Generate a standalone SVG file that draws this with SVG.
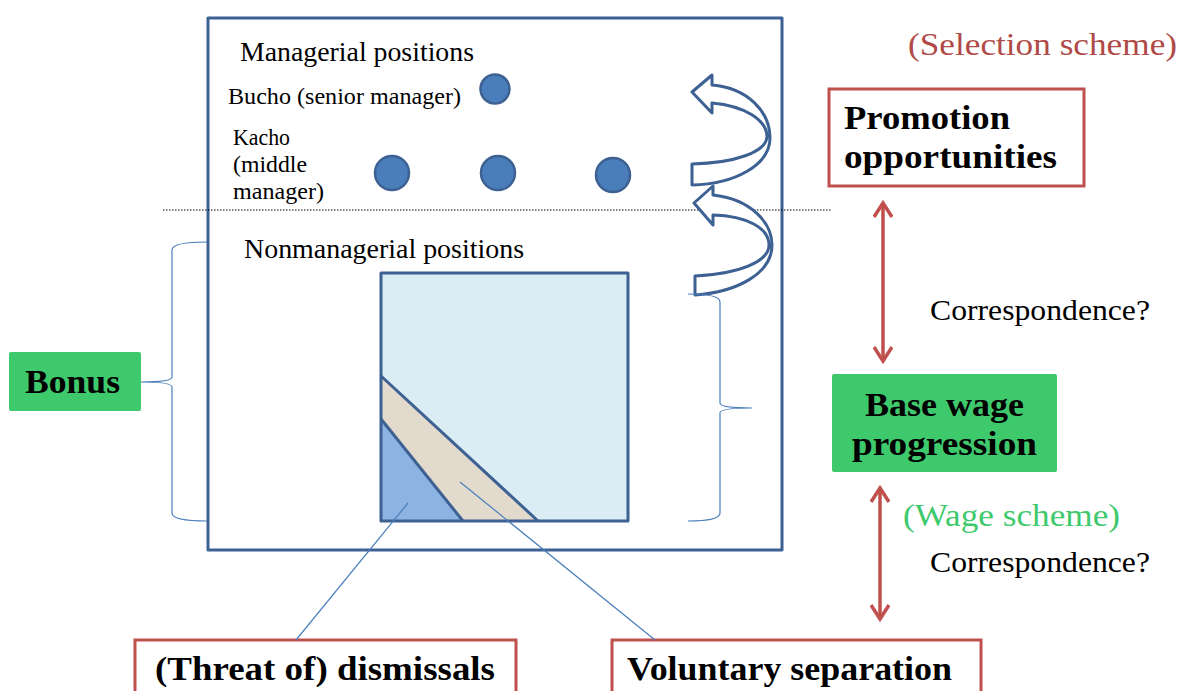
<svg xmlns="http://www.w3.org/2000/svg" width="1180" height="691" viewBox="0 0 1180 691">
<defs>
<style>
text{font-family:"Liberation Serif","DejaVu Serif",serif;fill:#000}
.b{font-weight:bold}
.blue{stroke:#3d6192;stroke-width:3;stroke-linejoin:round}
.dot{fill:#4a7ebb;stroke:#3d6192;stroke-width:2.5}
.thin{fill:none;stroke:#4a7ebb;stroke-width:1.2}
.red{fill:#fff;stroke:#c0504d;stroke-width:3}
.green{fill:#3fc96d}
.arr{fill:none;stroke:#c0504d;stroke-width:3.5}
</style>
<marker id="ah" viewBox="0 0 20 20" refX="16" refY="10" markerWidth="20" markerHeight="20" markerUnits="userSpaceOnUse" orient="auto-start-reverse">
<path d="M2,1 L16,10 L2,19" fill="none" stroke="#c0504d" stroke-width="3.5" stroke-linejoin="miter"/>
</marker>
</defs>
<rect width="1180" height="691" fill="#fff"/>

<g id="frame">
<rect x="208" y="18" width="574" height="532" fill="#fff" class="blue"/>
</g>
<line x1="163" y1="210" x2="832" y2="210" stroke="#000" stroke-width="1" stroke-dasharray="1.5,1.5"/>

<g id="managerial">
<text x="240" y="61" font-size="27" textLength="234" lengthAdjust="spacingAndGlyphs">Managerial positions</text>
<text x="228" y="104" font-size="24" textLength="233" lengthAdjust="spacingAndGlyphs">Bucho (senior manager)</text>
<text x="233" y="145" font-size="23" textLength="57" lengthAdjust="spacingAndGlyphs">Kacho</text>
<text x="233" y="172" font-size="23" textLength="74" lengthAdjust="spacingAndGlyphs">(middle</text>
<text x="233" y="199" font-size="23" textLength="91" lengthAdjust="spacingAndGlyphs">manager)</text>
<circle class="dot" cx="495" cy="89" r="14.5"/>
<circle class="dot" cx="392" cy="173" r="17"/>
<circle class="dot" cx="498" cy="173" r="17"/>
<circle class="dot" cx="613" cy="175" r="17"/>
</g>

<g id="promotion-arrows">
<path class="blue" fill="#fff" d="M692,92 L712,75 L712,85 C748,88 770,112 770,138 C770,165 735,184 692,185 L692,164 C735,163 766,152 767,137 C767,120 745,106 712,103 L712,113 Z"/>
<path class="blue" fill="#fff" d="M694,203 L713,186 L713,195 C750,199 772,222 772,245 C772,273 738,292 695,295 L695,276 C738,274 769,262 769,245 C769,228 747,216 713,215 L713,225 Z"/>
</g>

<g id="nonmanagerial">
<text x="244" y="258" font-size="27" textLength="280" lengthAdjust="spacingAndGlyphs">Nonmanagerial positions</text>
<rect x="381" y="273" width="247" height="248" fill="#dbedf4"/>
<polygon points="381,376 538,521 381,521" fill="#e2dacd"/>
<polygon points="381,419 463,521 381,521" fill="#8db3e2"/>
<line class="blue" x1="381" y1="376" x2="538" y2="521"/>
<line class="blue" x1="381" y1="419" x2="463" y2="521"/>
<rect x="381" y="273" width="247" height="248" fill="none" class="blue"/>
</g>

<g id="braces">
<path class="thin" d="M207,242 C188,242 172,244 172,250 L172,377 C172,381 160,382 141,382 C160,382 172,383 172,387 L172,513 C172,519 188,521 207,521"/>
<path class="thin" d="M688,294 C706,294 720,296 720,302 L720,403 C720,407 734,408 752,408 C734,408 720,409 720,413 L720,513 C720,519 706,521 688,521"/>
</g>

<g id="bonus">
<rect class="green" x="9" y="352" width="132" height="59" rx="2"/>
<text class="b" x="25" y="393" font-size="34" textLength="95" lengthAdjust="spacingAndGlyphs">Bonus</text>
</g>

<g id="selection-scheme">
<text x="908" y="55" font-size="32" style="fill:#b04a47" textLength="269" lengthAdjust="spacingAndGlyphs">(Selection scheme)</text>
</g>

<g id="promotion">
<rect class="red" x="829" y="89" width="255" height="97"/>
<text class="b" x="844" y="129" font-size="34" textLength="166" lengthAdjust="spacingAndGlyphs">Promotion</text>
<text class="b" x="844" y="168" font-size="34" textLength="213" lengthAdjust="spacingAndGlyphs">opportunities</text>
</g>

<g id="base-wage">
<rect class="green" x="832" y="374" width="225" height="98" rx="2"/>
<text class="b" x="865" y="416" font-size="34" textLength="159" lengthAdjust="spacingAndGlyphs">Base wage</text>
<text class="b" x="852" y="455" font-size="34" textLength="185" lengthAdjust="spacingAndGlyphs">progression</text>
</g>

<g id="wage-scheme">
<text x="903" y="526" font-size="32" style="fill:#3fc96d" textLength="217" lengthAdjust="spacingAndGlyphs">(Wage scheme)</text>
</g>

<g id="labels">
<text x="930" y="320" font-size="29" textLength="220" lengthAdjust="spacingAndGlyphs">Correspondence?</text>
<text x="930" y="572" font-size="29" textLength="220" lengthAdjust="spacingAndGlyphs">Correspondence?</text>
</g>

<g id="dismissals">
<rect class="red" x="135" y="640" width="381" height="70"/>
<text class="b" x="155" y="680" font-size="34" textLength="340" lengthAdjust="spacingAndGlyphs">(Threat of) dismissals</text>
</g>

<g id="voluntary">
<rect class="red" x="612" y="640" width="369" height="70"/>
<text class="b" x="627" y="680" font-size="34" textLength="325" lengthAdjust="spacingAndGlyphs">Voluntary separation</text>
</g>

<g id="connectors">
<line class="thin" stroke-width="1" x1="408" y1="503" x2="296" y2="640"/>
<line class="thin" stroke-width="1" x1="460" y1="482" x2="655" y2="640"/>
<line class="arr" x1="883" y1="203" x2="883" y2="361" marker-start="url(#ah)" marker-end="url(#ah)"/>
<line class="arr" x1="880" y1="488" x2="880" y2="619" marker-start="url(#ah)" marker-end="url(#ah)"/>
</g>
</svg>
